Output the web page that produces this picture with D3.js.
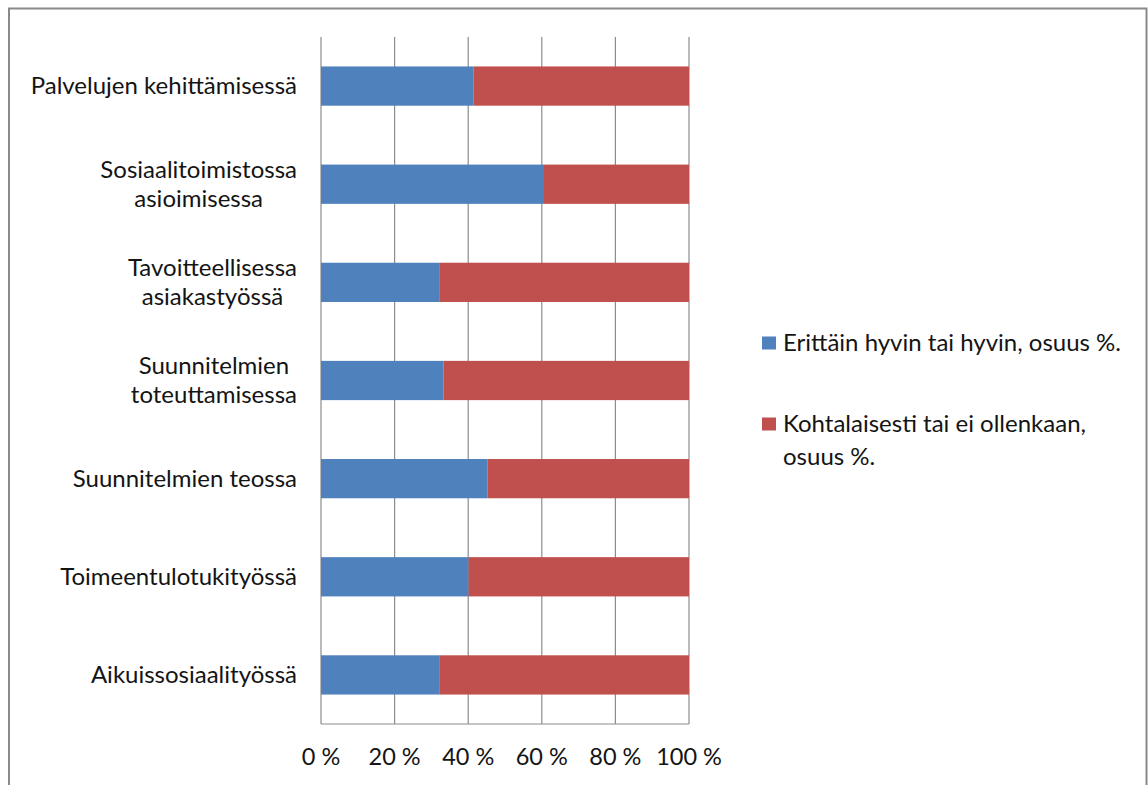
<!DOCTYPE html>
<html>
<head>
<meta charset="utf-8">
<script src="https://cdn.jsdelivr.net/npm/d3@7"></script>
<style>
  html, body { margin: 0; padding: 0; background: #fff; }
  svg text { font-family: Lato, "Open Sans", sans-serif; fill: #141414; }
</style>
</head>
<body>
<svg id="chart" width="1148" height="785"></svg>
<script>
// Category labels (line breaks mark wrapped labels)
const categories = [
  "Palvelujen kehittämisessä",
  "Sosiaalitoimistossa\nasioimisessa",
  "Tavoitteellisessa\nasiakastyössä",
  "Suunnitelmien\ntoteuttamisessa",
  "Suunnitelmien teossa",
  "Toimeentulotukityössä",
  "Aikuissosiaalityössä"
];
// Share answering "very well or well", %
const wellValues = [41.4, 60.6, 32.3, 33.3, 45.2, 40.1, 32.3];
// Share answering "moderately or not at all", %
const moderateValues = [58.6, 39.4, 67.7, 66.7, 54.8, 59.9, 67.7];
const seriesNames = ["Erittäin hyvin tai hyvin, osuus %.", "Kohtalaisesti tai ei ollenkaan,\nosuus %."];
const seriesColors = ["#4F81BD", "#C0504D"];
const tickValues = [0, 20, 40, 60, 80, 100];

const svg = d3.select("#chart");

// outer frame (bottom edge runs past the view)
svg.append("rect")
  .attr("x", 9).attr("y", 8.5)
  .attr("width", 1137.5).attr("height", 820)
  .attr("fill", "none").attr("stroke", "#8a8a8a").attr("stroke-width", 2);

const plot = { left: 321, right: 689, top: 37, bottom: 724 };

const x = d3.scaleLinear().domain([0, 100]).range([plot.left, plot.right]);
const y = d3.scaleBand().domain(categories).range([plot.top, plot.bottom]).paddingInner(0.6).paddingOuter(0.3);

// vertical gridlines
svg.append("g")
  .selectAll("line")
  .data(tickValues)
  .join("line")
  .attr("x1", d => x(d)).attr("x2", d => x(d))
  .attr("y1", plot.top).attr("y2", plot.bottom)
  .attr("stroke", "#8c8c8c").attr("stroke-width", 1.2);

// bottom axis line
svg.append("line")
  .attr("x1", plot.left).attr("x2", plot.right)
  .attr("y1", plot.bottom).attr("y2", plot.bottom)
  .attr("stroke", "#8c8c8c").attr("stroke-width", 1.2);

// stacked data
const rows = categories.map((c, i) => ({ cat: c, a: wellValues[i], b: moderateValues[i] }));
const stack = d3.stack().keys(["a", "b"])(rows);

svg.append("g")
  .selectAll("g")
  .data(stack)
  .join("g")
  .attr("fill", (d, i) => seriesColors[i])
  .selectAll("rect")
  .data(d => d)
  .join("rect")
  .attr("x", d => x(d[0]))
  .attr("width", d => x(d[1]) - x(d[0]))
  .attr("y", d => y(d.data.cat))
  .attr("height", y.bandwidth());

// x tick labels
svg.append("g")
  .selectAll("text")
  .data(tickValues)
  .join("text")
  .attr("x", d => x(d))
  .attr("y", 757)
  .attr("dy", "0.35em")
  .attr("text-anchor", "middle")
  .attr("font-size", 23.5)
  .text(d => d + " %");

// category labels: lines centred on each other, block right-aligned
const lineH = 29;
const catG = svg.append("g");
categories.forEach(c => {
  const lines = c.split("\n");
  const cy = y(c) + y.bandwidth() / 2;
  const t = catG.append("text").attr("font-size", 24);
  lines.forEach((ln, j) => {
    t.append("tspan")
      .attr("y", cy + (j - (lines.length - 1) / 2) * lineH)
      .attr("dy", "0.35em")
      .text(ln);
  });
  const tspans = t.selectAll("tspan").nodes();
  const widths = tspans.map(n => n.getComputedTextLength());
  const maxW = d3.max(widths);
  const cx = 297 - maxW / 2;
  tspans.forEach(n => d3.select(n).attr("x", cx).attr("text-anchor", "middle"));
});

// legend
const legendY = [343, 424];
seriesNames.forEach((name, i) => {
  svg.append("rect")
    .attr("x", 762).attr("y", legendY[i] - 6.5)
    .attr("width", 14).attr("height", 13)
    .attr("fill", seriesColors[i]);
  const t = svg.append("text").attr("font-size", 24);
  name.split("\n").forEach((ln, j) => {
    t.append("tspan")
      .attr("x", 783)
      .attr("y", legendY[i] + j * 33)
      .attr("dy", "0.35em")
      .text(ln);
  });
});
</script>
</body>
</html>
